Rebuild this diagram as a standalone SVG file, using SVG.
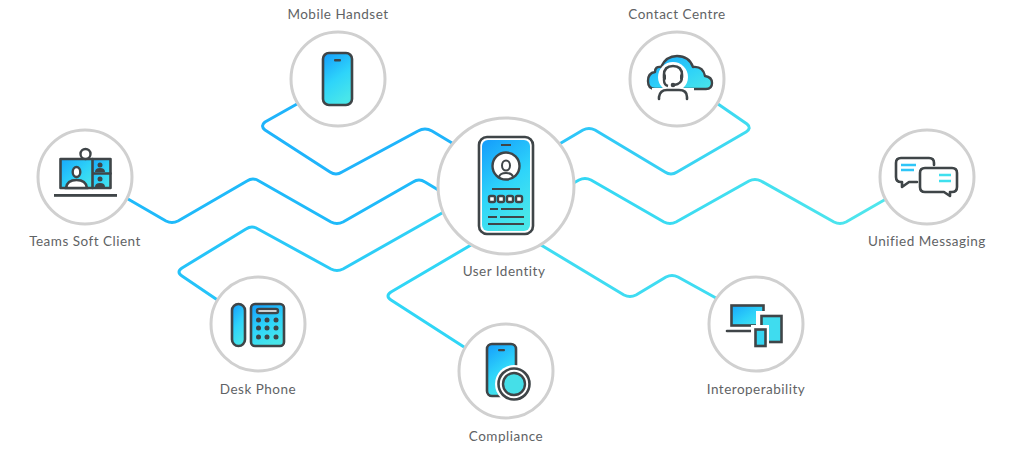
<svg xmlns="http://www.w3.org/2000/svg" width="1024" height="453" viewBox="0 0 1024 453">
<style>
.conn{fill:none;stroke-width:3;stroke-linejoin:round;stroke-linecap:round}
.ring{fill:#fff;stroke:#d0d0d0;stroke-width:3}
.o{fill:none;stroke:#3f4548;stroke-width:2.6;stroke-linecap:round;stroke-linejoin:round}
.t{stroke:#3f4548;stroke-width:2.6;stroke-linejoin:round;stroke-linecap:round}
.w{fill:#fff;stroke:#3f4548;stroke-width:2.4}
.k{fill:#3f4548}
.lbl{font-family:"Lato","Noto Sans",sans-serif;font-size:13.5px;fill:#5f6365;text-anchor:middle;letter-spacing:.5px}
</style>
<defs>
<linearGradient id="g" x1="0" y1="0" x2="1" y2="1"><stop offset="0" stop-color="#18a8fb"/><stop offset=".55" stop-color="#2ed2f8"/><stop offset="1" stop-color="#4be6e8"/></linearGradient>
<linearGradient id="g2" x1=".1" y1="0" x2=".5" y2="1"><stop offset="0" stop-color="#169ffb"/><stop offset=".55" stop-color="#2ed4fa"/><stop offset="1" stop-color="#48e6ea"/></linearGradient>
<linearGradient id="cc" gradientUnits="userSpaceOnUse" x1="560" y1="0" x2="750" y2="0"><stop offset="0" stop-color="#2cc4f9"/><stop offset="1" stop-color="#40dcf0"/></linearGradient>
<linearGradient id="um" gradientUnits="userSpaceOnUse" x1="560" y1="0" x2="886" y2="0"><stop offset="0" stop-color="#30d6f5"/><stop offset="1" stop-color="#50e6ec"/></linearGradient>
<linearGradient id="dp" gradientUnits="userSpaceOnUse" x1="180" y1="0" x2="440" y2="0"><stop offset="0" stop-color="#24c2f9"/><stop offset="1" stop-color="#30d2f6"/></linearGradient>
</defs>
<rect width="1024" height="453" fill="#fff"/>
<g id="connectors">
<path class="conn" stroke="#1fb4fb" d="M297,104 L265,122 Q260,126 265,130 L330,172 Q336,176 342,172 L418,131 Q425,127 432,131 L452,143"/>
<path class="conn" stroke="#1fbafa" d="M128,199 L166,221 Q172,224 178,221 L247,181 Q253,177 259,181 L331,222 Q337,225 343,222 L413,182 Q419,178 425,182 L440,191"/>
<path class="conn" stroke="url(#dp)" d="M216,299 L182,276 Q176,272 182,268 L246,229 Q252,225 258,229 L331,269 Q337,272 343,269 L442,213"/>
<path class="conn" stroke="#30d6f6" d="M471,245 L391,292 Q385,296 391,300 L464,347"/>
<path class="conn" stroke="#3fdcf2" d="M541,245 L624,295 Q630,298 636,295 L666,277 Q672,274 678,277 L716,298"/>
<path class="conn" stroke="url(#cc)" d="M561,143 L583,130 Q589,127 595,130 L665,172 Q671,176 677,172 L746,132 Q752,128 747,124 L718,104"/>
<path class="conn" stroke="url(#um)" d="M561,190 L579,180 Q585,177 591,180 L664,222 Q670,225 676,222 L749,181 Q755,178 761,181 L834,222 Q840,225 846,222 L886,199"/>
</g>
<g id="teams">
<circle class="ring" cx="85" cy="177" r="47"/>
<rect x="60.500" y="159" width="32" height="29" fill="url(#g)"/>
<rect x="92.500" y="159" width="18" height="29" fill="url(#g)"/>
<rect class="o" x="60.500" y="159" width="50" height="29"/>
<path class="o" d="M92.500,159V188M92.500,173.500H110.500"/>
<circle class="w" cx="85.500" cy="154" r="5"/>
<ellipse class="w" cx="76.500" cy="172" rx="3.800" ry="5"/>
<path class="w" d="M66,188Q67,180 76.500,180Q86,180 87,188Z"/>
<g class="k"><circle cx="100" cy="165" r="2.500"/><path d="M95,172Q95,168 100,168Q105,168 105,172Z"/><circle cx="100" cy="179" r="2.500"/><path d="M95,187Q95,183 100,183Q105,183 105,187Z"/></g>
<rect class="k" x="54" y="194" width="63" height="2.800"/>
<text class="lbl" x="85" y="246">Teams Soft Client</text>
</g>
<g id="mobile">
<circle class="ring" cx="338" cy="79" r="47"/>
<rect x="323" y="53" width="29" height="52" rx="6" fill="url(#g2)" stroke="#3f4548" stroke-width="2.600"/>
<rect class="k" x="334" y="59" width="7" height="2.500" rx="1"/>
<text class="lbl" x="338" y="19">Mobile Handset</text>
</g>
<g id="contact">
<circle class="ring" cx="677" cy="79" r="47"/>
<path d="M662,89H655Q648,89 648,81Q648,73 655,72Q655,66 661,67Q666,56 677,56Q689,56 693,67Q703,66 705,76Q712,77 712,83Q712,89 706,89H690Z" fill="url(#g)" stroke="#3f4548" stroke-width="2.400" stroke-linejoin="round"/>
<circle cx="673" cy="77" r="15" fill="#fff"/>
<rect x="652" y="88" width="42" height="14" fill="#fff"/>
<path class="o" d="M664,77V75Q664,66 673,66Q682,66 682,75V77"/>
<path d="M664,77V80Q664,85 668,86M682,77Q682,84 674,85" fill="none" stroke="#3f4548" stroke-width="2.400"/>
<circle class="k" cx="673" cy="85" r="2.300"/>
<rect class="k" x="663" y="74" width="3" height="6" rx="1.500"/><rect class="k" x="680" y="74" width="3" height="6" rx="1.500"/>
<path class="o" d="M659,99V97Q660,90 667,90H679Q687,90 687,97V99"/>
<text class="lbl" x="677" y="19">Contact Centre</text>
</g>
<g id="unified">
<circle class="ring" cx="927" cy="177" r="47"/>
<path class="o" d="M934,165V163Q934,158 929,158H901Q896,158 896,163V177Q896,182 901,182H902V187L909,182H917"/>
<path class="o" d="M925,168H952Q957,168 957,173V187Q957,192 952,192H950V196L944,192H925Q920,192 920,187V173Q920,168 925,168Z"/>
<path d="M901,165H916M901,170H914" stroke="#2fc5f7" stroke-width="2.400" fill="none"/>
<path d="M939,175H951M939,181H951" stroke="#3fe0ee" stroke-width="2.400" fill="none"/>
<text class="lbl" x="927" y="246">Unified Messaging</text>
</g>
<g id="identity">
<circle class="ring" cx="506" cy="186" r="68"/>
<rect x="479" y="137" width="54" height="97" rx="8" fill="#fff" stroke="#3f4548" stroke-width="2.600"/>
<rect x="482" y="140" width="48" height="91" rx="6" fill="url(#g2)"/>
<rect class="k" x="501" y="144" width="10" height="2"/>
<circle class="w" cx="506" cy="166" r="13.500"/>
<ellipse cx="506" cy="165.500" rx="4" ry="5" fill="none" stroke="#3f4548" stroke-width="2"/>
<path d="M499,177Q500,173 506,173Q512,173 513,177" fill="none" stroke="#3f4548" stroke-width="2"/>
<rect class="k" x="492" y="188" width="28" height="2"/>
<g class="w"><rect x="489" y="196" width="6" height="6" rx="1.500"/><rect x="498" y="196" width="6" height="6" rx="1.500"/><rect x="507" y="196" width="6" height="6" rx="1.500"/><rect x="516" y="196" width="6" height="6" rx="1.500"/></g>
<g class="k"><rect x="490" y="208" width="8" height="2"/><rect x="501" y="208" width="22" height="2"/><rect x="488" y="216" width="9" height="2"/><rect x="500" y="216" width="24" height="2"/><rect x="488" y="223" width="36" height="2"/></g>
<text class="lbl" x="504" y="276">User Identity</text>
</g>
<g id="desk">
<circle class="ring" cx="258" cy="324" r="47"/>
<rect x="232" y="304" width="13" height="42" rx="6.500" fill="url(#g2)" stroke="#3f4548" stroke-width="2.600"/>
<rect x="251" y="304" width="33" height="42" rx="4" fill="url(#g2)" stroke="#3f4548" stroke-width="2.600"/>
<rect class="w" x="257" y="309" width="21" height="4" rx="2" stroke-width="1.800"/>
<g class="k"><circle cx="258.500" cy="320" r="2.500"/><circle cx="267" cy="320" r="2.500"/><circle cx="276" cy="320" r="2.500"/><circle cx="258.500" cy="328" r="2.500"/><circle cx="267" cy="328" r="2.500"/><circle cx="276" cy="328" r="2.500"/><circle cx="258.500" cy="337" r="2.500"/><circle cx="267" cy="337" r="2.500"/><circle cx="276" cy="337" r="2.500"/></g>
<text class="lbl" x="258" y="394">Desk Phone</text>
</g>
<g id="compliance">
<circle class="ring" cx="506" cy="371" r="47"/>
<rect x="487" y="344" width="29" height="52" rx="5" fill="url(#g2)" stroke="#3f4548" stroke-width="2.600"/>
<rect class="k" x="498" y="349" width="7" height="2.200" rx="1"/>
<circle cx="514" cy="384" r="19" fill="#fff"/>
<circle cx="514" cy="384" r="15.500" fill="#fff" stroke="#3f4548" stroke-width="2.600"/>
<circle cx="514" cy="384" r="11" fill="#45dfe8" stroke="#3f4548" stroke-width="2.400"/>
<text class="lbl" x="506" y="441">Compliance</text>
</g>
<g id="interop">
<circle class="ring" cx="756" cy="324" r="47"/>
<rect x="731.500" y="305.500" width="32" height="20" fill="url(#g)" stroke="#3f4548" stroke-width="2.600"/>
<path class="t" d="M727,331H752" fill="none"/>
<rect x="756" y="311" width="30" height="40" fill="#fff"/>
<rect x="761.500" y="316" width="20" height="26" fill="#3fdcef" stroke="#3f4548" stroke-width="2.600"/>
<rect x="751" y="325" width="18" height="25" fill="#fff"/>
<rect x="755.500" y="329.500" width="10" height="16.500" fill="#35d5f2" stroke="#3f4548" stroke-width="2.600"/>
<text class="lbl" x="756" y="394">Interoperability</text>
</g>
</svg>
